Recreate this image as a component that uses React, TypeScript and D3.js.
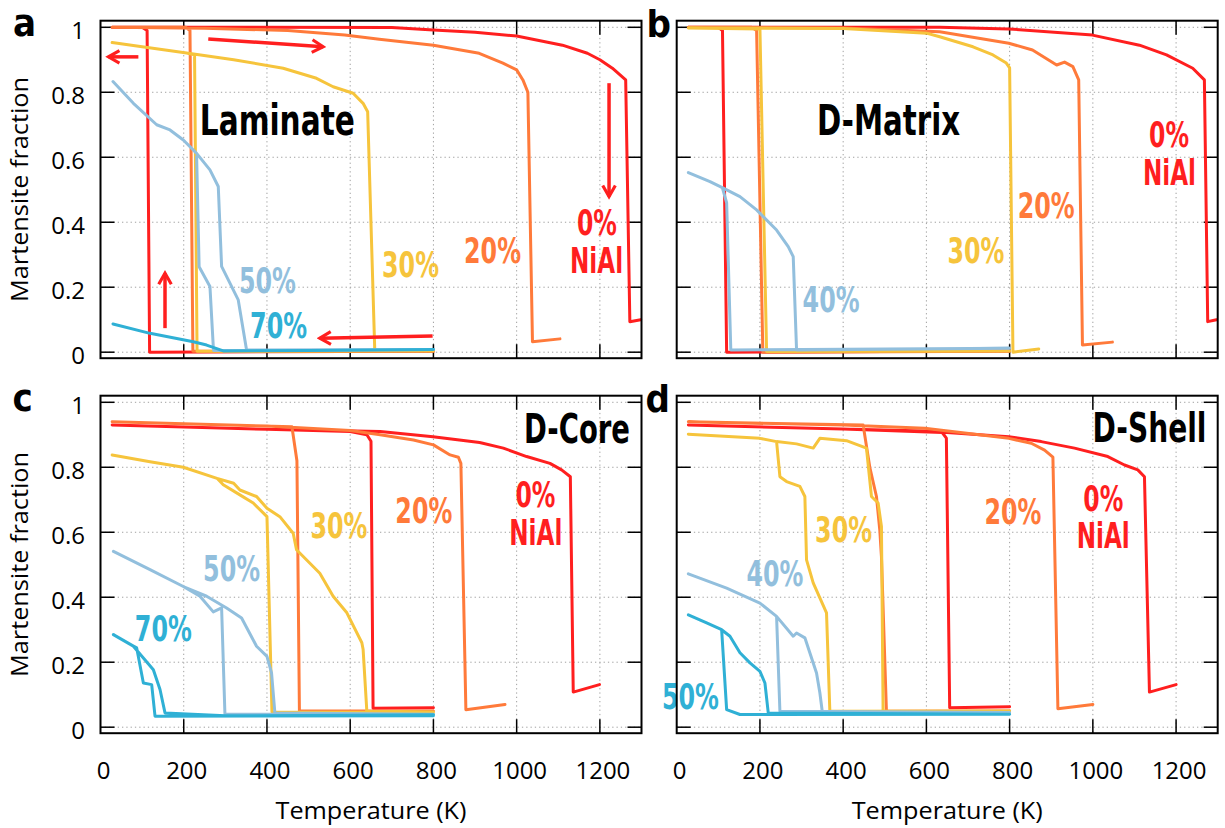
import React from 'react'
import * as d3 from 'd3'

type Pt = [number, number]

// axis ticks
const xTicks = [0, 200, 400, 600, 800, 1000, 1200]
const yTicks = [0, 0.2, 0.4, 0.6, 0.8, 1]

// (a) Laminate -- each curve is cooling branch then heating branch
const laminate0: Pt[] = [[800, 0.003], [118, 0.0], [112, 0.99], [100, 1.0], [28, 1.0], [300, 1.0], [700, 0.999], [800, 0.992], [900, 0.985], [1000, 0.973], [1110, 0.945], [1170, 0.92], [1200, 0.9], [1230, 0.874], [1262, 0.838], [1272, 0.094], [1298, 0.1]]
const laminate20: Pt[] = [[800, 0.004], [222, 0.003], [215, 0.99], [205, 1.0], [28, 1.0], [250, 0.997], [450, 0.99], [587, 0.976], [670, 0.963], [800, 0.945], [910, 0.92], [967, 0.89], [1000, 0.869], [1015, 0.838], [1027, 0.8], [1038, 0.032], [1104, 0.041]]
const laminate30: Pt[] = [[800, 0.004], [232, 0.003], [226, 0.915], [207, 0.921], [100, 0.94], [28, 0.953], [100, 0.94], [207, 0.921], [320, 0.9], [439, 0.874], [519, 0.843], [559, 0.817], [607, 0.797], [631, 0.766], [642, 0.74], [659, 0.007]]
const laminate50: Pt[] = [[30, 0.833], [79, 0.766], [135, 0.7], [167, 0.684], [199, 0.653], [231, 0.612], [263, 0.561], [283, 0.51], [291, 0.264], [331, 0.161], [351, 0.007], [800, 0.008], [272, 0.005], [271, 0.017], [263, 0.202], [237, 0.263], [231, 0.602]]
const laminate70: Pt[] = [[30, 0.087], [119, 0.058], [223, 0.032], [255, 0.022], [295, 0.004], [500, 0.005], [800, 0.008]]

// (b) D-Matrix
const matrix0: Pt[] = [[800, 0.004], [120, 0.0], [110, 0.99], [100, 1.0], [28, 1.0], [632, 1.0], [798, 0.995], [999, 0.976], [1112, 0.945], [1177, 0.915], [1240, 0.874], [1268, 0.838], [1276, 0.094], [1297, 0.1]]
const matrix20: Pt[] = [[800, 0.003], [207, 0.0], [192, 0.99], [180, 1.0], [28, 1.0], [400, 0.998], [632, 0.986], [798, 0.951], [855, 0.93], [913, 0.884], [932, 0.893], [952, 0.879], [966, 0.838], [975, 0.022], [1047, 0.031]]
const matrix30: Pt[] = [[800, 0.004], [216, 0.002], [200, 0.995], [28, 0.998], [400, 0.996], [600, 0.982], [632, 0.971], [712, 0.94], [760, 0.915], [792, 0.89], [800, 0.875], [808, 0.0], [870, 0.01]]
const matrix40: Pt[] = [[28, 0.553], [80, 0.525], [112, 0.505], [152, 0.479], [192, 0.438], [240, 0.376], [268, 0.325], [280, 0.294], [288, 0.007], [800, 0.012], [130, 0.007], [120, 0.46], [110, 0.505]]

// (c) D-Core
const core0: Pt[] = [[800, 0.06], [655, 0.058], [650, 0.88], [640, 0.9], [600, 0.91], [400, 0.917], [28, 0.93], [400, 0.917], [672, 0.91], [799, 0.894], [911, 0.876], [968, 0.859], [1024, 0.833], [1080, 0.812], [1108, 0.792], [1129, 0.771], [1136, 0.108], [1199, 0.131]]
const core20: Pt[] = [[800, 0.05], [478, 0.05], [472, 0.82], [460, 0.925], [28, 0.94], [400, 0.927], [600, 0.913], [672, 0.9], [752, 0.884], [800, 0.869], [840, 0.838], [860, 0.831], [866, 0.812], [878, 0.054], [972, 0.07]]
const core30: Pt[] = [[800, 0.045], [412, 0.047], [400, 0.648], [367, 0.69], [335, 0.715], [295, 0.746], [280, 0.766], [199, 0.8], [119, 0.817], [28, 0.838], [119, 0.817], [199, 0.8], [280, 0.766], [320, 0.751], [335, 0.73], [375, 0.71], [400, 0.674], [431, 0.648], [463, 0.597], [471, 0.546], [527, 0.474], [559, 0.403], [592, 0.352], [628, 0.26], [631, 0.24], [640, 0.049], [800, 0.047]]
const core50: Pt[] = [[800, 0.04], [299, 0.04], [291, 0.367], [271, 0.355], [239, 0.403], [199, 0.433], [119, 0.485], [31, 0.541], [119, 0.485], [199, 0.433], [255, 0.403], [303, 0.367], [339, 0.336], [375, 0.249], [400, 0.218], [411, 0.167], [419, 0.044], [800, 0.04]]
const core70: Pt[] = [[800, 0.035], [131, 0.034], [123, 0.131], [103, 0.136], [87, 0.244], [79, 0.25], [31, 0.285], [79, 0.249], [127, 0.177], [143, 0.116], [155, 0.044], [300, 0.035], [800, 0.038]]

// (d) D-Shell
const shell0: Pt[] = [[800, 0.063], [656, 0.06], [648, 0.89], [638, 0.907], [400, 0.918], [28, 0.93], [400, 0.918], [596, 0.912], [676, 0.905], [798, 0.894], [876, 0.879], [956, 0.859], [1036, 0.833], [1076, 0.807], [1108, 0.792], [1124, 0.771], [1136, 0.108], [1200, 0.131]]
const shell20: Pt[] = [[800, 0.05], [504, 0.049], [492, 0.525], [488, 0.607], [480, 0.71], [464, 0.8], [448, 0.93], [28, 0.94], [400, 0.93], [596, 0.92], [798, 0.889], [852, 0.874], [884, 0.853], [904, 0.831], [916, 0.057], [1000, 0.07]]
const shell30: Pt[] = [[800, 0.05], [368, 0.049], [360, 0.352], [328, 0.444], [312, 0.515], [308, 0.71], [296, 0.741], [264, 0.756], [248, 0.771], [240, 0.879], [200, 0.889], [28, 0.902], [200, 0.889], [240, 0.879], [288, 0.872], [328, 0.859], [344, 0.889], [408, 0.882], [456, 0.859], [468, 0.71], [484, 0.69], [492, 0.618], [496, 0.049], [800, 0.05]]
const shell40: Pt[] = [[800, 0.045], [248, 0.049], [240, 0.341], [200, 0.382], [120, 0.428], [28, 0.472], [120, 0.428], [200, 0.382], [240, 0.341], [280, 0.28], [288, 0.29], [308, 0.275], [336, 0.167], [344, 0.106], [350, 0.046], [800, 0.045]]
const shell50: Pt[] = [[800, 0.04], [152, 0.039], [120, 0.054], [108, 0.3], [72, 0.321], [28, 0.346], [72, 0.321], [108, 0.3], [128, 0.28], [152, 0.229], [176, 0.198], [200, 0.172], [212, 0.136], [220, 0.044], [800, 0.04]]

// arrows in panel a (from, to) in data units
const laminateArrows: Pt[][] = [
    [[91, 0.909], [19, 0.909]],
    [[259, 0.964], [535, 0.94]],
    [[155, 0.074], [155, 0.243]],
    [[1222, 0.828], [1222, 0.479]],
    [[798, 0.05], [527, 0.043]],
]

const RED = '#ff1f1f'
const ORANGE = '#ff7a3a'
const YELLOW = '#f6c43c'
const LIGHTBLUE = '#92bfdd'
const TEAL = '#2fb0d5'

const BOLD_NARROW = '"Liberation Sans Narrow", "DejaVu Sans Condensed", "Arial Narrow", sans-serif'
const PLAIN = '"Open Sans", Lato, "DejaVu Sans", sans-serif'

interface Series { data: Pt[]; color: string }
interface Label { text: string; at: Pt; color: string; size: number; width: number }
interface PanelDef {
    letter: string
    left: number
    top: number
    series: Series[]
    labels: Label[]
    arrows?: Pt[][]
    showY: boolean
    showX: boolean
}

const W = 541
const H = 337.5

const pct = (text: string, at: Pt, color: string, width = 57): Label => ({ text, at, color, size: 35, width })
const title = (text: string, at: Pt, width: number, size = 42): Label => ({ text, at, color: '#000', size, width })

const panels: PanelDef[] = [
    {
        letter: 'a', left: 100.5, top: 20.7, showY: true, showX: false,
        series: [
            { data: laminate0, color: RED }, { data: laminate20, color: ORANGE }, { data: laminate30, color: YELLOW },
            { data: laminate50, color: LIGHTBLUE }, { data: laminate70, color: TEAL },
        ],
        labels: [
            title('Laminate', [425, 0.668], 155),
            pct('50%', [401, 0.182], LIGHTBLUE), pct('70%', [428, 0.044], TEAL),
            pct('30%', [745, 0.232], YELLOW), pct('20%', [942, 0.275], ORANGE),
            pct('0%', [1193, 0.361], RED, 40), pct('NiAl', [1192, 0.244], RED, 53),
        ],
        arrows: laminateArrows,
    },
    {
        letter: 'b', left: 676.7, top: 20.7, showY: false, showX: false,
        series: [
            { data: matrix0, color: RED }, { data: matrix20, color: ORANGE }, { data: matrix30, color: YELLOW },
            { data: matrix40, color: LIGHTBLUE },
        ],
        labels: [
            title('D-Matrix', [509, 0.668], 143),
            pct('40%', [371, 0.124], LIGHTBLUE), pct('30%', [719, 0.275], YELLOW),
            pct('20%', [888, 0.413], ORANGE),
            pct('0%', [1183, 0.632], RED, 40), pct('NiAl', [1184, 0.515], RED, 53),
        ],
    },
    {
        letter: 'c', left: 100.5, top: 395.7, showY: true, showX: true,
        series: [
            { data: core0, color: RED }, { data: core20, color: ORANGE }, { data: core30, color: YELLOW },
            { data: core50, color: LIGHTBLUE }, { data: core70, color: TEAL },
        ],
        labels: [
            title('D-Core', [1145, 0.874], 106, 40),
            pct('30%', [573, 0.582], YELLOW), pct('50%', [315, 0.449], LIGHTBLUE),
            pct('70%', [151, 0.264], TEAL), pct('20%', [777, 0.628], ORANGE),
            pct('0%', [1045, 0.679], RED, 40), pct('NiAl', [1046, 0.561], RED, 53),
        ],
    },
    {
        letter: 'd', left: 676.7, top: 395.7, showY: false, showX: true,
        series: [
            { data: shell0, color: RED }, { data: shell20, color: ORANGE }, { data: shell30, color: YELLOW },
            { data: shell40, color: LIGHTBLUE }, { data: shell50, color: TEAL },
        ],
        labels: [
            title('D-Shell', [1136, 0.879], 114, 40),
            pct('20%', [808, 0.626], ORANGE), pct('30%', [401, 0.569], YELLOW),
            pct('40%', [236, 0.433], LIGHTBLUE), pct('50%', [33, 0.057], TEAL),
            pct('0%', [1025, 0.664], RED, 40), pct('NiAl', [1025, 0.551], RED, 53),
        ],
    },
]

// where the panel letter sits, relative to the panel's top-left corner
const letterOffset: Record<string, Pt> = { a: [-76, 15], b: [-18, 16], c: [-78, 15], d: [-19, 16] }

const Panel = ({ p }: { p: PanelDef }) => {
    const x = d3.scaleLinear().domain([0, 1300]).range([0, W])
    const y = d3.scaleLinear().domain([-0.0185, 1.0203]).range([H, 0])
    const line = d3.line<Pt>().x(d => x(d[0])).y(d => y(d[1]))
    const tickLen = 14
    const fmt = d3.format('~g')
    const [lx, ly] = letterOffset[p.letter]

    return (
        <g transform={`translate(${p.left},${p.top})`}>
            {/* grid */}
            {xTicks.filter(t => t > 0).map(t => (
                <line key={`gx${t}`} x1={x(t)} x2={x(t)} y1={0} y2={H} stroke="#a0a0a0" strokeWidth={1} strokeDasharray="1.3 3" />
            ))}
            {yTicks.map(t => (
                <line key={`gy${t}`} x1={0} x2={W} y1={y(t)} y2={y(t)} stroke="#a0a0a0" strokeWidth={1} strokeDasharray="1.3 3" />
            ))}
            {/* ticks, inward on all sides */}
            {xTicks.filter(t => t > 0).map(t => (
                <g key={`tx${t}`} stroke="#000" strokeWidth={1.5}>
                    <line x1={x(t)} x2={x(t)} y1={H} y2={H - tickLen} />
                    <line x1={x(t)} x2={x(t)} y1={0} y2={tickLen} />
                </g>
            ))}
            {yTicks.map(t => (
                <g key={`ty${t}`} stroke="#000" strokeWidth={1.5}>
                    <line x1={0} x2={tickLen} y1={y(t)} y2={y(t)} />
                    <line x1={W} x2={W - tickLen} y1={y(t)} y2={y(t)} />
                </g>
            ))}
            {/* curves */}
            {p.series.map((s, i) => (
                <path key={`s${i}`} d={line(s.data) || ''} fill="none" stroke={s.color} strokeWidth={3}
                      strokeLinejoin="round" strokeLinecap="round" />
            ))}
            {/* arrows */}
            {(p.arrows || []).map((a, i) => (
                <line key={`a${i}`} x1={x(a[0][0])} y1={y(a[0][1])} x2={x(a[1][0])} y2={y(a[1][1])}
                      stroke={RED} strokeWidth={3.5} markerEnd="url(#arrowHead)" />
            ))}
            {/* labels */}
            {p.labels.map((l, i) => (
                <text key={`l${i}`} x={x(l.at[0])} y={y(l.at[1])} textAnchor="middle" fill={l.color}
                      fontFamily={BOLD_NARROW} fontWeight="bold" fontSize={l.size}
                      textLength={l.width} lengthAdjust="spacingAndGlyphs">{l.text}</text>
            ))}
            {/* frame */}
            <rect x={0} y={0} width={W} height={H} fill="none" stroke="#000" strokeWidth={2} />
            {/* tick labels */}
            {p.showY && yTicks.map(t => (
                <text key={`yl${t}`} x={-15.5} y={y(t) + 11.5} textAnchor="end" fontFamily={PLAIN} fontSize={24} fill="#000">{fmt(t)}</text>
            ))}
            {p.showY && (
                <text transform={`translate(${28 - p.left},${H / 2}) rotate(-90)`} textAnchor="middle"
                      fontFamily={PLAIN} fontSize={24} fill="#000" textLength={225} lengthAdjust="spacingAndGlyphs">Martensite fraction</text>
            )}
            {p.showX && xTicks.map(t => (
                <text key={`xl${t}`} x={x(t) + 3} y={H + 46} textAnchor="middle" fontFamily={PLAIN} fontSize={24} fill="#000">{t}</text>
            ))}
            {p.showX && (
                <text x={W / 2} y={H + 86} textAnchor="middle" fontFamily={PLAIN} fontSize={24} fill="#000"
                      textLength={191} lengthAdjust="spacingAndGlyphs">Temperature (K)</text>
            )}
            {/* panel letter */}
            <text x={lx} y={ly} textAnchor="middle" fontFamily={BOLD_NARROW} fontWeight="bold" fontSize={38} fill="#000">{p.letter}</text>
        </g>
    )
}

export default function App() {
    return (
        <svg width={1225} height={828} style={{ position: 'absolute', left: 0, top: 0, background: '#fff' }}>
            <defs>
                <marker id="arrowHead" viewBox="0 0 10 10" refX={8} refY={5} markerWidth={4.5} markerHeight={4.5}
                        orient="auto" markerUnits="strokeWidth">
                    <path d="M1,1 L8,5 L1,9" fill="none" stroke={RED} strokeWidth={2} />
                </marker>
            </defs>
            {panels.map(p => <Panel key={p.letter} p={p} />)}
        </svg>
    )
}
